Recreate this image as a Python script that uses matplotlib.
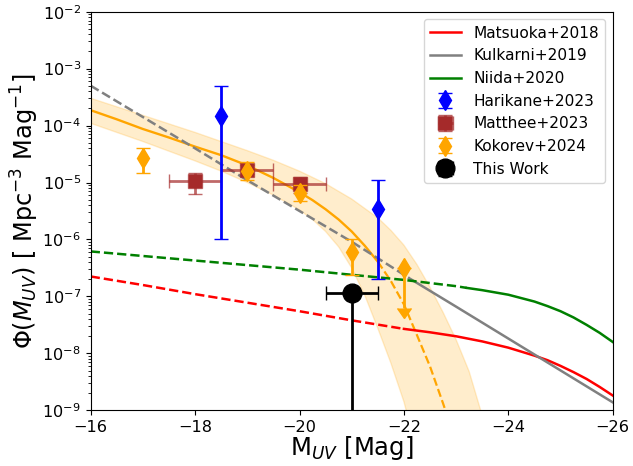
import numpy as np
import matplotlib
matplotlib.use('Agg')
import matplotlib.pyplot as plt

# ---- literature LF curves, log10(phi) ----
matsuoka_M_dash = [-16, -17, -18, -19, -20, -21, -22]
matsuoka_lp_dash = [-6.65, -6.80, -6.96, -7.11, -7.26, -7.42, -7.57]
matsuoka_M = [-22, -22.5, -23, -23.5, -24, -24.25, -24.5, -24.75, -25, -25.25, -25.5, -25.75, -26]
matsuoka_lp = [-7.57, -7.63, -7.70, -7.79, -7.90, -7.97, -8.04, -8.12, -8.22, -8.33, -8.45, -8.59, -8.74]

kulkarni_M_dash = [-16, -17, -18, -19, -20, -21, -22, -22.1]
kulkarni_lp_dash = [-3.30, -3.85, -4.40, -4.96, -5.50, -6.04, -6.62, -6.68]
kulkarni_M = [-22.1, -23, -24, -25, -26]
kulkarni_lp = [-6.68, -7.18, -7.74, -8.30, -8.86]

niida_M_dash = [-16, -17, -18, -19, -20, -21, -22, -23, -23.2]
niida_lp_dash = [-6.21, -6.29, -6.37, -6.45, -6.53, -6.62, -6.71, -6.82, -6.85]
niida_M = [-23.2, -23.5, -23.75, -24, -24.25, -24.5, -24.75, -25, -25.25, -25.5, -25.75, -26]
niida_lp = [-6.85, -6.89, -6.93, -6.97, -7.03, -7.09, -7.17, -7.26, -7.37, -7.50, -7.64, -7.80]

# ---- fit to the data with its uncertainty band ----
fit_M = [-16, -16.5, -17, -17.5, -18, -18.5, -19, -19.5, -20, -20.25, -20.5, -20.75,
         -21, -21.25, -21.5]
fit_lp = [-3.73, -3.89, -4.06, -4.21, -4.37, -4.52, -4.70, -4.92, -5.17, -5.31, -5.47, -5.65,
          -5.86, -6.11, -6.39]
fit_M_dash = [-21.5, -21.75, -22, -22.25, -22.5, -22.75, -22.85]
fit_lp_dash = [-6.39, -6.73, -7.14, -7.68, -8.23, -8.88, -9.15]

band_up_M = [-16, -16.5, -17, -17.5, -18, -18.5, -19, -19.5, -20, -20.5, -21, -21.5, -21.75,
             -22, -22.25, -22.5, -22.75, -23, -23.25, -23.47, -23.55]
band_up_lp = [-3.52, -3.67, -3.82, -3.97, -4.12, -4.28, -4.44, -4.61, -4.80, -5.02, -5.29,
              -5.62, -5.84, -6.10, -6.44, -6.84, -7.28, -7.76, -8.32, -9.0, -9.28]
band_lo_M = [-16, -16.5, -17, -17.5, -18, -18.5, -19, -19.5, -20, -20.25, -20.5, -20.75,
             -21, -21.25, -21.5, -21.75, -22, -22.1]
band_lo_lp = [-3.96, -4.12, -4.28, -4.45, -4.62, -4.80, -5.00, -5.22, -5.48, -5.65, -5.86,
              -6.13, -6.50, -6.98, -7.56, -8.17, -8.85, -9.2]

# ---- data points ----
harikane_M = [-18.5, -21.5]
harikane_phi = [1.5e-4, 3.4e-6]
harikane_lo = [1.0e-6, 2.0e-7]
harikane_hi = [5.0e-4, 1.12e-5]

matthee_M = [-18, -19, -20]
matthee_phi = [1.05e-5, 1.66e-5, 9.3e-6]
matthee_lo = [6.3e-6, 1.4e-5, 6.5e-6]
matthee_hi = [1.46e-5, 2.0e-5, 1.25e-5]
matthee_dM = [0.5, 0.5, 0.5]

kokorev_M = [-17, -19, -20, -21, -22]
kokorev_phi = [2.7e-5, 1.6e-5, 6.5e-6, 6.1e-7, 3.2e-7]
kokorev_lo = [1.5e-5, 1.1e-5, 4.7e-6, 2.4e-7, 6.3e-8]
kokorev_hi = [4.0e-5, 2.3e-5, 9.0e-6, 1.0e-6, 3.2e-7]
kokorev_uplim = [False, False, False, False, True]

this_M = [-21]
this_phi = [1.15e-7]
this_dM = [0.5]


def yerr_from(phi, lo, hi):
    phi = np.array(phi)
    return [phi - np.array(lo), np.array(hi) - phi]


fig = plt.figure(figsize=(6.33, 4.66), dpi=100)
ax = fig.add_axes([0.1433, 0.1195, 0.8247, 0.8554])

# uncertainty band
band_M = np.r_[band_up_M, band_lo_M[::-1]]
band_lp = np.r_[band_up_lp, band_lo_lp[::-1]]
ax.fill(band_M, 10**band_lp, color='orange', alpha=0.2, lw=1, zorder=1)
ax.plot(fit_M, 10**np.array(fit_lp), color='orange', lw=1.7, zorder=2)
ax.plot(fit_M_dash, 10**np.array(fit_lp_dash), color='orange', lw=1.6, ls='--', zorder=2)

lw = 1.8
ax.plot(matsuoka_M_dash, 10**np.array(matsuoka_lp_dash), color='red', ls='--', lw=lw)
ax.plot(matsuoka_M, 10**np.array(matsuoka_lp), color='red', lw=lw, label='Matsuoka+2018')
ax.plot(kulkarni_M_dash, 10**np.array(kulkarni_lp_dash), color='gray', ls='--', lw=lw)
ax.plot(kulkarni_M, 10**np.array(kulkarni_lp), color='gray', lw=lw, label='Kulkarni+2019')
ax.plot(niida_M_dash, 10**np.array(niida_lp_dash), color='green', ls='--', lw=lw)
ax.plot(niida_M, 10**np.array(niida_lp), color='green', lw=lw, label='Niida+2020')

ax.errorbar(harikane_M, harikane_phi, yerr=yerr_from(harikane_phi, harikane_lo, harikane_hi),
            fmt='d', color='blue', ms=10, elinewidth=2, capsize=5, label='Harikane+2023', zorder=5)
brown = (165/255, 42/255, 42/255)
ax.errorbar(matthee_M, matthee_phi, xerr=matthee_dM,
            yerr=yerr_from(matthee_phi, matthee_lo, matthee_hi),
            fmt='s', color=brown, mfc=brown, mec=brown + (0.6,), ms=10.5,
            ecolor=brown + (0.7,), elinewidth=2, capsize=5, label='Matthee+2023', zorder=4)
ax.errorbar(kokorev_M, kokorev_phi, yerr=yerr_from(kokorev_phi, kokorev_lo, kokorev_hi),
            uplims=kokorev_uplim, fmt='d', color='orange', ms=10, elinewidth=2, capsize=5,
            label='Kokorev+2024', zorder=5)
ax.errorbar(this_M, this_phi, xerr=this_dM, yerr=[[this_phi[0] - 1e-12], [0]],
            fmt='o', color='black', ms=13.5, elinewidth=2, capsize=5, label='This Work', zorder=6)

ax.set_yscale('log')
ax.set_xlim(-16, -26)
ax.set_ylim(1e-9, 1e-2)
ax.set_xlabel('M$_{UV}$ [Mag]', fontsize=17.5, labelpad=-1)
ax.set_ylabel(r'$\Phi(M_{UV})$ [ Mpc$^{-3}$ Mag$^{-1}$]', fontsize=17.3, labelpad=1)
ax.tick_params(labelsize=11.6)
ax.legend(loc='upper right', fontsize=11.1)

fig.savefig('out.png', dpi=100)
